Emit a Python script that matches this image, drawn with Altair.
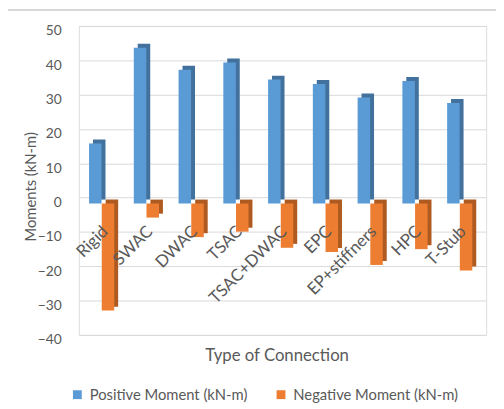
import altair as alt
import pandas as pd

categories = ["Rigid", "SWAC", "DWAC", "TSAC", "TSAC+DWAC", "EPC", "EP+stiffners", "HPC", "T-Stub"]
positive = [17.5, 45.4, 39.0, 41.1, 36.1, 34.8, 30.9, 35.7, 29.3]
negative = [-31.2, -4.1, -9.8, -8.2, -12.9, -14.1, -17.9, -13.3, -19.5]
series_names = ["Positive Moment (kN-m)", "Negative Moment (kN-m)"]
front_colors = ["#5B9BD5", "#ED7D31"]
side_colors = ["#41719C", "#AE5A21"]
y_ticks = [-40, -30, -20, -10, 0, 10, 20, 30, 40, 50]

rows = []
for c, p, n in zip(categories, positive, negative):
    rows.append({"cat": c, "series": series_names[0], "value": p})
    rows.append({"cat": c, "series": series_names[1], "value": n})
df = pd.DataFrame(rows)
lab_df = pd.DataFrame({"cat": categories})

FONT = "Lato"
GRAY = "#595959"
BW = 12.7
DEPTH = 4
DROP = 6

x_axis = alt.Axis(labels=False, ticks=False, domain=False, grid=False,
                  title="Type of Connection", titleFontSize=17,
                  titleFont=FONT, titleColor=GRAY, titleFontWeight="normal",
                  titleX=201, titleY=21, titleBaseline="middle",
                  titleAlign="center")
x_scale = alt.Scale(paddingInner=0, paddingOuter=0.05)
x_enc = alt.X("cat:N", sort=categories, scale=x_scale, axis=x_axis)

y_scale = alt.Scale(domain=[-40, 50], nice=False, zero=False)
y_axis = alt.Axis(values=y_ticks, grid=True, gridColor="#d9d9d9", labelOverlap=False,
                  domain=False, ticks=False, labelPadding=18, labelOffset=5,
                  labelFont=FONT, labelFontSize=14, labelColor=GRAY,
                  title="Moments (kN-m)", titleFont=FONT, titleFontSize=15,
                  titleColor=GRAY, titleFontWeight="normal",
                  titleX=-49, titleY=163, titleAngle=270,
                  titleAlign="center", titleBaseline="middle")
y_enc = alt.Y("value:Q", scale=y_scale, axis=y_axis)
y2_enc = alt.Y2(datum=0)

layers = []
offsets = [-8.3, 4.6]
for i, s in enumerate(series_names):
    base = alt.Chart(df).transform_filter(alt.datum.series == s)
    back = base.mark_bar(width=BW, xOffset=offsets[i] + DEPTH,
                         yOffset=DROP - DEPTH, y2Offset=DROP - DEPTH,
                         color=side_colors[i]).encode(x=x_enc, y=y_enc, y2=y2_enc)
    front = base.mark_bar(width=BW, xOffset=offsets[i], yOffset=DROP,
                          y2Offset=DROP).encode(
        x=x_enc, y=y_enc, y2=y2_enc,
        color=alt.Color("series:N",
                        scale=alt.Scale(domain=series_names, range=front_colors),
                        legend=alt.Legend(title=None, orient="none", direction="horizontal",
                                          legendX=-9, legendY=367, labelLimit=0,
                                          symbolType="square", symbolSize=81,
                                          symbolStrokeWidth=0, labelFont=FONT,
                                          labelFontSize=15, labelColor=GRAY,
                                          labelOffset=5, columnPadding=26)))
    layers += [back, front]

labels = alt.Chart(lab_df).mark_text(angle=315, align="right", baseline="middle",
                                     font=FONT, fontSize=17, color=GRAY,
                                     xOffset=2, yOffset=32).encode(
    x=alt.X("cat:N", sort=categories, scale=x_scale, axis=x_axis),
    y=alt.Y(datum=0, scale=y_scale, axis=y_axis), text="cat:N")

frame = alt.Chart(lab_df).mark_rule(color="#d9d9d9").encode(
    x=alt.value(-73), x2=alt.value(500), y=alt.value(-16), y2=alt.value(-16))
frame2 = alt.Chart(lab_df).mark_rule(color="#d9d9d9").encode(
    x=alt.value(-73), x2=alt.value(-73), y=alt.value(-16), y2=alt.value(400))

chart = alt.layer(frame, frame2, *layers, labels).properties(
    width=414, height=314, autosize="none",
    padding={"left": 72, "top": 15, "right": 10, "bottom": 70}
).configure_view(stroke=None).configure(font=FONT)

chart.save("out.html", embed_options={"renderer": "svg", "actions": False})
